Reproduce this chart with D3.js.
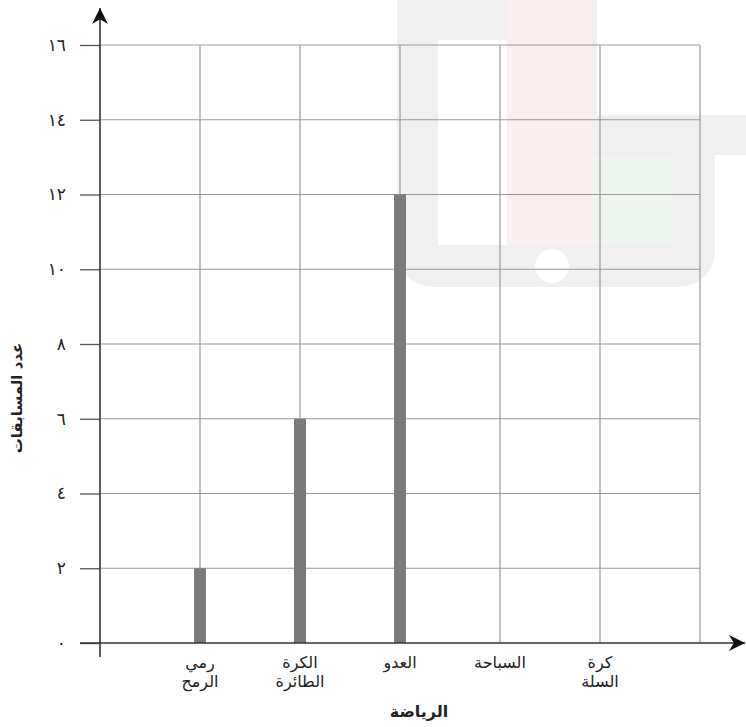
<!DOCTYPE html>
<html lang="ar">
<head>
<meta charset="utf-8">
<script src="https://cdn.jsdelivr.net/npm/d3@7"></script>
<style>
  body { margin: 0; background: #fff; }
  svg { display: block; font-family: "DejaVu Sans", sans-serif; }
</style>
</head>
<body>
<svg id="chart" width="746" height="727"></svg>
<script>
// chart data
const sports = [["رمي", "الرمح"], ["الكرة", "الطائرة"], ["العدو"], ["السباحة"], ["كرة", "السلة"]];
const counts = [2, 6, 12, 0, 0];
const yTicks = [0, 2, 4, 6, 8, 10, 12, 14, 16];
const yTickLabels = ["٠", "٢", "٤", "٦", "٨", "١٠", "١٢", "١٤", "١٦"];
const xTitle = "الرياضة";
const yTitle = "عدد المسابقات";

const svg = d3.select("#chart");

// scales: columns 0..6 on the grid, sports sit on columns 1..5
const x = d3.scaleLinear().domain([0, 6]).range([100, 700]);
const y = d3.scaleLinear().domain([0, 16]).range([643, 45]);

// faint logo watermark behind the chart
const wm = svg.append("g").attr("class", "watermark");
wm.append("rect")
  .attr("x", 397).attr("y", -40).attr("width", 300).attr("height", 327)
  .attr("rx", 36).attr("fill", "#f0f0f0");
wm.append("rect")
  .attr("x", 555).attr("y", 115).attr("width", 160).attr("height", 172)
  .attr("rx", 36).attr("fill", "#f0f0f0");
wm.append("rect")
  .attr("x", 600).attr("y", 115).attr("width", 146).attr("height", 40)
  .attr("fill", "#f0f0f0");
wm.append("rect")
  .attr("x", 597).attr("y", -5).attr("width", 110).attr("height", 120)
  .attr("fill", "#fff");
wm.append("rect")
  .attr("x", 438).attr("y", 40).attr("width", 70).attr("height", 205)
  .attr("fill", "#fff");
wm.append("rect")
  .attr("x", 507).attr("y", 0).attr("width", 85).attr("height", 245)
  .attr("fill", "#fcefef");
wm.append("rect")
  .attr("x", 592).attr("y", 157).attr("width", 82).attr("height", 88)
  .attr("fill", "#eef5ee");
wm.append("circle")
  .attr("cx", 552).attr("cy", 266).attr("r", 17).attr("fill", "#fff");

// grid
const grid = svg.append("g").attr("stroke", "#9a9a9a").attr("stroke-width", 1.2);
grid.selectAll("line.h")
  .data(yTicks.filter(d => d > 0))
  .join("line")
  .attr("class", "h")
  .attr("x1", x(0)).attr("x2", x(6))
  .attr("y1", d => y(d)).attr("y2", d => y(d));
grid.selectAll("line.v")
  .data(d3.range(1, 7))
  .join("line")
  .attr("class", "v")
  .attr("x1", d => x(d)).attr("x2", d => x(d))
  .attr("y1", y(16)).attr("y2", y(0));

// bars
svg.append("g")
  .selectAll("rect")
  .data(counts)
  .join("rect")
  .attr("x", (d, i) => x(i + 1) - 6)
  .attr("width", 12)
  .attr("y", d => y(d))
  .attr("height", d => y(0) - y(d))
  .attr("fill", "#7b7b7b");

// y axis with arabic digits
const yAxis = svg.append("g")
  .attr("transform", `translate(${x(0)},0)`)
  .call(d3.axisLeft(y)
    .tickValues(yTicks)
    .tickSize(20)
    .tickPadding(14)
    .tickFormat((d, i) => yTickLabels[i]));
yAxis.select(".domain").remove();
yAxis.selectAll(".tick line").attr("stroke", "#555").attr("stroke-width", 1.3);
yAxis.selectAll(".tick text")
  .attr("font-size", 17)
  .attr("font-family", "DejaVu Sans, sans-serif")
  .attr("fill", "#222");

// axis lines with arrows
svg.append("defs").append("marker")
  .attr("id", "arrow")
  .attr("viewBox", "0 0 10 10")
  .attr("refX", 10).attr("refY", 5)
  .attr("markerWidth", 18).attr("markerHeight", 16)
  .attr("markerUnits", "userSpaceOnUse")
  .attr("orient", "auto")
  .append("path")
  .attr("d", "M0,0 L10,5 L0,10 L3,5 Z")
  .attr("fill", "#111");

svg.append("line")
  .attr("x1", x(0)).attr("x2", x(0))
  .attr("y1", 657).attr("y2", 8)
  .attr("stroke", "#333").attr("stroke-width", 1.6)
  .attr("marker-end", "url(#arrow)");
svg.append("line")
  .attr("x1", 80).attr("x2", 745)
  .attr("y1", y(0)).attr("y2", y(0))
  .attr("stroke", "#333").attr("stroke-width", 1.6)
  .attr("marker-end", "url(#arrow)");

// category labels
const labels = svg.append("g")
  .attr("font-size", 16)
  .attr("fill", "#222")
  .attr("text-anchor", "middle");
labels.selectAll("text")
  .data(sports)
  .join("text")
  .attr("x", (d, i) => x(i + 1))
  .attr("y", 668)
  .each(function (d) {
    d3.select(this).selectAll("tspan")
      .data(d)
      .join("tspan")
      .attr("x", d3.select(this).attr("x"))
      .attr("dy", (t, j) => j === 0 ? 0 : 19)
      .text(t => t);
  });

// axis titles
svg.append("text")
  .attr("x", 419).attr("y", 717)
  .attr("text-anchor", "middle")
  .attr("font-size", 16).attr("font-weight", "bold")
  .attr("fill", "#222")
  .text(xTitle);
svg.append("text")
  .attr("transform", "translate(22,398) rotate(-90)")
  .attr("text-anchor", "middle")
  .attr("font-size", 15).attr("font-weight", "bold")
  .attr("fill", "#222")
  .text(yTitle);
</script>
</body>
</html>
